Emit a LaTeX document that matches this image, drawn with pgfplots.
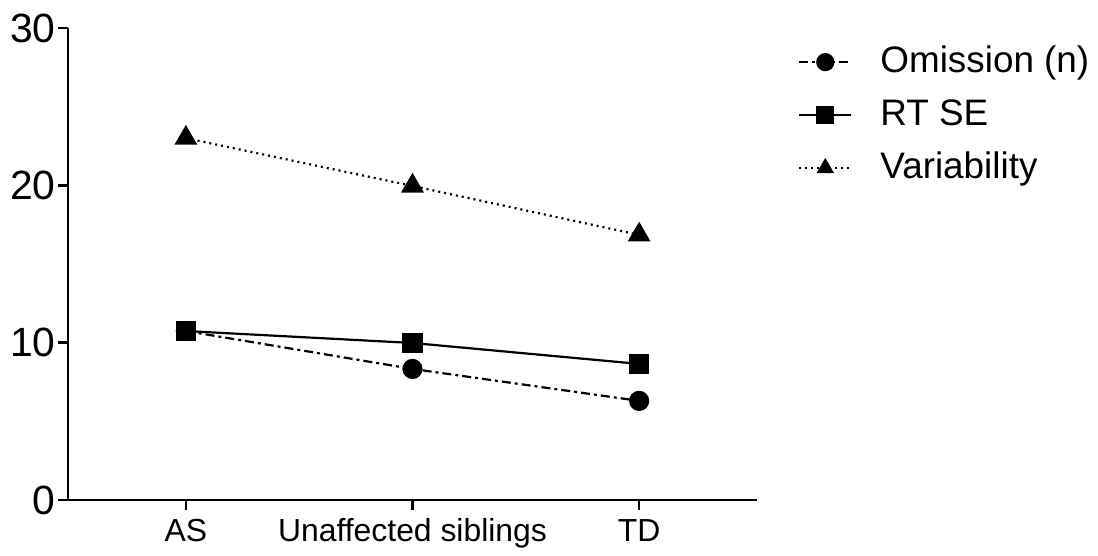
\documentclass[border=0pt]{standalone}
\usepackage{pgfplots}
\pgfplotsset{compat=1.18}
\usepackage{fontspec}
\setmainfont{Liberation Sans}
\begin{document}
\begin{tikzpicture}
\begin{axis}[
 scale only axis, width=689bp, height=472bp,
 xmin=-0.52, xmax=2.52, ymin=0, ymax=30,
 axis lines*=left, axis line style={line width=2.4bp, -},
 xtick={0,1,2}, xticklabels={AS, Unaffected siblings, TD},
 ytick={0,10,20,30},
 tick align=outside, major tick length=10bp, tick style={line width=2.4bp, black},
 xticklabel style={font=\fontsize{32}{38}\selectfont, text height=0.73em, text depth=0.21em, yshift=-21bp},
 yticklabel style={font=\fontsize{41}{46}\selectfont, xshift=1bp},
 /pgf/number format/assume math mode=true,
 clip=false,
 legend style={draw=none, fill=none, inner sep=0pt, at={(1.0595,0.945)}, anchor=north west,
   font=\fontsize{37}{44}\selectfont, row sep=32bp, column sep=28bp,
   nodes={inner sep=0pt, text height=0.75em, text depth=0.25em}},
 legend cell align=left,
 legend image code/.code={\draw[#1, mark size=8bp, mark repeat=2, mark phase=2] plot coordinates {(0bp,8bp) (26bp,8bp) (52bp,8bp)};},
 every axis plot/.append style={line width=2.2bp, black},
]
\addplot[dash pattern=on 9bp off 4bp on 3bp off 4bp, mark=*, mark size=9bp, mark options={solid, fill=black}]
 coordinates {(0,10.74) (1,8.33) (2,6.3)};
\addlegendentry{Omission (n)}
\addplot[solid, mark=square*, mark size=9bp, mark options={solid, fill=black}]
 coordinates {(0,10.74) (1,9.98) (2,8.65)};
\addlegendentry{RT SE}
\addplot[dash pattern=on 2bp off 4bp, mark=triangle*, mark size=11bp, mark options={solid, fill=black}]
 coordinates {(0,23.0) (1,19.96) (2,16.85)};
\addlegendentry{Variability}
\end{axis}
\pgfresetboundingbox
\path (-68bp,-56bp) rectangle (1030bp,500bp);
\end{tikzpicture}
\end{document}
